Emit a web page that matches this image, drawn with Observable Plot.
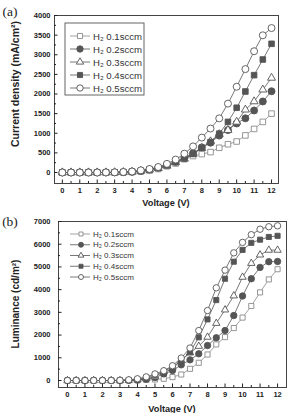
<!DOCTYPE html>
<html>
<head>
<meta charset="utf-8">
<script src="https://cdn.jsdelivr.net/npm/d3@7"></script>
<script src="https://cdn.jsdelivr.net/npm/@observablehq/plot@0.6"></script>
<style>
  body { margin: 0; background: #fff; }
  #chart { position: relative; width: 287px; height: 413px; overflow: hidden; font-family: "Liberation Sans", Arial, sans-serif; }
  #chart svg { position: absolute; left: 0; overflow: visible; }
</style>
</head>
<body>
<div id="chart"></div>
<script>
// Applied voltage (V), sampled every 0.5 V
const voltage = [0, 0.5, 1, 1.5, 2, 2.5, 3, 3.5, 4, 4.5, 5, 5.5, 6, 6.5, 7, 7.5, 8, 8.5, 9, 9.5, 10, 10.5, 11, 11.5, 12];

// H2 flow rate for each device
const seriesLabels = ["H₂ 0.1sccm", "H₂ 0.2sccm", "H₂ 0.3sccm", "H₂ 0.4sccm", "H₂ 0.5sccm"];

// (a) current density, mA/cm²
const current01 = [0, 0, 0, 0, 0, 0, 2, 5, 10, 25, 50, 90, 160, 230, 340, 420, 470, 520, 630, 720, 790, 945, 1110, 1290, 1500];
const current02 = [0, 0, 0, 0, 0, 0, 3, 8, 18, 40, 75, 120, 190, 270, 370, 490, 640, 760, 940, 1080, 1250, 1380, 1580, 1810, 2070];
const current03 = [0, 0, 0, 0, 0, 0, 3, 8, 18, 40, 70, 110, 170, 260, 350, 470, 620, 790, 975, 1080, 1290, 1600, 1810, 2110, 2410];
const current04 = [0, 0, 0, 0, 0, 0, 4, 10, 22, 45, 75, 120, 195, 280, 370, 475, 630, 775, 990, 1290, 1650, 2064, 2480, 2879, 3279];
const current05 = [0, 0, 0, 0, 0, 3, 5, 12, 25, 55, 90, 140, 220, 330, 480, 665, 890, 1120, 1380, 1755, 2185, 2635, 3090, 3495, 3680];

// (b) luminance, cd/m²
const lum01 = [0, 0, 0, 0, 0, 0, 0, 5, 10, 25, 45, 75, 150, 265, 515, 780, 1145, 1590, 1910, 2310, 2770, 3280, 3880, 4450, 4900];
const lum02 = [0, 0, 0, 0, 0, 0, 0, 8, 20, 60, 130, 290, 440, 690, 910, 1175, 1540, 1880, 2200, 2860, 3720, 4480, 4980, 5230, 5240];
const lum03 = [0, 0, 0, 0, 0, 0, 0, 10, 30, 80, 170, 400, 590, 880, 1220, 1510, 1910, 2520, 3110, 3730, 4550, 5160, 5530, 5740, 5740];
const lum04 = [0, 0, 0, 0, 0, 0, 5, 20, 50, 120, 250, 340, 520, 900, 1250, 1900, 2690, 3540, 4480, 5230, 5750, 6060, 6200, 6320, 6370];
const lum05 = [0, 0, 0, 0, 0, 0, 8, 30, 75, 160, 290, 430, 650, 990, 1430, 2200, 3080, 4080, 4860, 5620, 6080, 6420, 6660, 6770, 6810];

// Tick values
const xMajor = [0, 1, 2, 3, 4, 5, 6, 7, 8, 9, 10, 11, 12];
const xMinor = [0.5, 1.5, 2.5, 3.5, 4.5, 5.5, 6.5, 7.5, 8.5, 9.5, 10.5, 11.5];
const yMajorA = [0, 500, 1000, 1500, 2000, 2500, 3000, 3500, 4000];
const yMinorA = [250, 750, 1250, 1750, 2250, 2750, 3250, 3750];
const yMajorB = [0, 1000, 2000, 3000, 4000, 5000, 6000, 7000];
const yMinorB = [500, 1500, 2500, 3500, 4500, 5500, 6500];

// Marker style per series
const symbols = ["square", "circle", "triangle", "square", "circle"];
const filled = [false, true, false, true, false];
const strokes = ["#8a8a8a", "#555", "#555", "#555", "#555"];

function rows(values) {
  return voltage.map((v, i) => ({v, y: values[i]}));
}

function markerR(k, r) {
  return symbols[k] === "triangle" ? r * 0.85 : symbols[k] === "square" ? r * 0.9 : r;
}

function seriesMarks(seriesValues, r) {
  const marks = [];
  seriesValues.forEach((vals, k) => {
    const data = rows(vals);
    marks.push(Plot.line(data, {x: "v", y: "y", stroke: strokes[k], strokeWidth: 0.8}));
    marks.push(Plot.dot(data, {
      x: "v", y: "y", symbol: symbols[k], r: markerR(k, r),
      fill: filled[k] ? strokes[k] : "white",
      stroke: strokes[k], strokeWidth: 0.9
    }));
  });
  return marks;
}

function panel({seriesValues, xDomain, yDomain, yMajor, yMinor, height, margins, yPad, r}) {
  return Plot.plot({
    width: 287,
    height,
    marginLeft: margins[3], marginRight: margins[1], marginTop: margins[0], marginBottom: margins[2],
    style: {fontFamily: "Liberation Sans, Arial, sans-serif", fontSize: "7.5px", fontWeight: "bold", color: "#222", background: "transparent"},
    x: {domain: xDomain},
    y: {domain: yDomain},
    marks: [
      ...seriesMarks(seriesValues, r),
      Plot.frame({stroke: "#444", strokeWidth: 1}),
      Plot.axisX({ticks: xMajor, tickSize: -3.5, tickPadding: 8, label: null, tickFormat: d => String(d)}),
      Plot.axisX({ticks: xMinor, tickSize: -2, tickPadding: 0, label: null, tickFormat: () => ""}),
      Plot.axisY({ticks: yMajor, tickSize: -3.5, tickPadding: yPad, label: null, tickFormat: d => String(d)}),
      Plot.axisY({ticks: yMinor, tickSize: -2, tickPadding: 0, label: null, tickFormat: () => ""})
    ]
  });
}

function addText(svg, {x, y, text, rotate = 0, size, weight = "bold", family = "Liberation Sans, Arial, sans-serif", anchor = "middle", fill = "#222"}) {
  return d3.select(svg).append("text")
    .attr("transform", `translate(${x},${y}) rotate(${rotate})`)
    .attr("text-anchor", anchor)
    .attr("dominant-baseline", "central")
    .attr("font-size", size)
    .attr("font-weight", weight)
    .attr("font-family", family)
    .attr("fill", fill)
    .text(text);
}

function addLegend(svg, {x0, y0, dy, lineLen, markerX, textX, fontSize, r, box}) {
  const g = d3.select(svg).append("g");
  if (box) {
    g.append("rect").attr("x", box[0]).attr("y", box[1]).attr("width", box[2]).attr("height", box[3])
      .attr("fill", "white").attr("stroke", "#555").attr("stroke-width", 0.9);
  }
  const shapes = {square: d3.symbolSquare, circle: d3.symbolCircle, triangle: d3.symbolTriangle};
  seriesLabels.forEach((label, k) => {
    const y = y0 + k * dy;
    g.append("line").attr("x1", x0).attr("x2", x0 + lineLen).attr("y1", y).attr("y2", y)
      .attr("stroke", strokes[k]).attr("stroke-width", 0.8);
    const rr = markerR(k, r);
    g.append("path")
      .attr("d", d3.symbol(shapes[symbols[k]], rr * rr * Math.PI)())
      .attr("transform", `translate(${markerX},${y})`)
      .attr("fill", filled[k] ? strokes[k] : "white")
      .attr("stroke", strokes[k]).attr("stroke-width", 0.9);
    g.append("text").attr("x", textX).attr("y", y)
      .attr("text-anchor", "start")
      .attr("dominant-baseline", "central")
      .attr("font-size", fontSize).attr("font-weight", "normal").attr("fill", "#333")
      .attr("font-family", "Liberation Sans, Arial, sans-serif")
      .text(label);
  });
}

const root = document.getElementById("chart");

// (a) Current density vs voltage
const svgA = panel({
  seriesValues: [current01, current02, current03, current04, current05],
  xDomain: [-0.45, 12.4], yDomain: [-280, 4000],
  yMajor: yMajorA, yMinor: yMinorA,
  height: 207, margins: [15, 9, 24, 54], yPad: 7.5, r: 3.5
});
svgA.style.top = "0px";
root.appendChild(svgA);
addText(svgA, {x: 10, y: 11, text: "(a)", size: 13.5, weight: "normal", family: "Liberation Serif, Times New Roman, serif"});
addText(svgA, {x: 15, y: 84, text: "Current density (mA/cm²)", rotate: -90, size: 10.5});
addText(svgA, {x: 166, y: 203, text: "Voltage (V)", size: 9.2});
addLegend(svgA, {x0: 70, y0: 36, dy: 13, lineLen: 20, markerX: 80, textX: 93, fontSize: 9.6, r: 3.2, box: [65, 23, 79, 72]});

// (b) Luminance vs voltage
const svgB = panel({
  seriesValues: [lum01, lum02, lum03, lum04, lum05],
  xDomain: [-0.51, 12.51], yDomain: [-308, 7000],
  yMajor: yMajorB, yMinor: yMinorB,
  height: 206, margins: [14, 1, 26, 58], yPad: 11.5, r: 3.2
});
svgB.style.top = "207px";
root.appendChild(svgB);
addText(svgB, {x: 10, y: 14, text: "(b)", size: 13.5, weight: "normal", family: "Liberation Serif, Times New Roman, serif"});
addText(svgB, {x: 15, y: 97, text: "Luminance (cd/m²)", rotate: -90, size: 10});
addText(svgB, {x: 172, y: 202, text: "Voltage (V)", size: 9.2});
addLegend(svgB, {x0: 70, y0: 27, dy: 10.75, lineLen: 20, markerX: 81, textX: 93, fontSize: 8, r: 2.5, box: null});
</script>
</body>
</html>
